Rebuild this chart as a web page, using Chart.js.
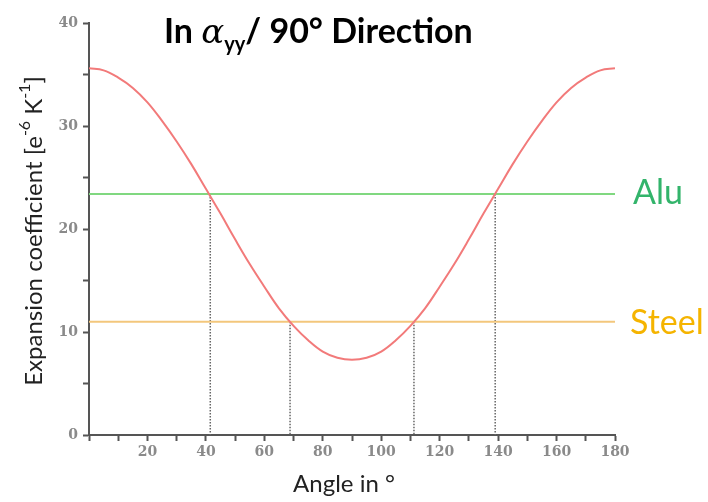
<!DOCTYPE html>
<html>
<head>
<meta charset="utf-8">
<script src="https://cdn.jsdelivr.net/npm/chart.js@4"></script>
<style>
  html, body { margin: 0; padding: 0; background: #fff; }
  canvas { display: block; }
</style>
</head>
<body>
<canvas id="grafica" width="708" height="502"></canvas>
<script>
"use strict";

// angulo en grados y coeficiente
const angles = [0, 5, 10, 15, 20, 25, 30, 35, 40, 45, 50, 55, 60, 65, 70, 75, 80, 85, 90,
    95, 100, 105, 110, 115, 120, 125, 130, 135, 140, 145, 150, 155, 160, 165, 170, 175, 180];
const coefficient = [35.6, 35.4, 34.7, 33.7, 32.3, 30.5, 28.5, 26.3, 23.9, 21.5, 19.0, 16.6, 14.4, 12.3, 10.6, 9.2, 8.1, 7.5, 7.3,
    7.5, 8.1, 9.2, 10.6, 12.3, 14.4, 16.6, 19.0, 21.5, 23.9, 26.3, 28.5, 30.5, 32.3, 33.7, 34.7, 35.4, 35.6];

const aluLevel = 23.4;
const steelLevel = 11.0;

// cruces de la curva con los materiales
const crossAngles = [41.5, 68.8, 111.2, 139];
const crossLevels = [23.4, 11.0, 11.0, 23.4];

const materialNames = ["Alu", "Steel"];

const canvas = document.querySelector("#grafica");

/**
 * Textos: titulo, titulo del eje y, nombres de materiales
 */
const textPlugin = {
    id: "textos",
    afterDraw(chart) {
        const ctx = chart.ctx;
        const y = chart.scales.y;
        const area = chart.chartArea;
        ctx.save();

        // titulo
        const parts = [
            { t: "In ", f: "bold 34px Lato", dy: 0 },
            { t: "\u03B1", f: "italic 34px 'DejaVu Serif'", dy: 0 },
            { t: "yy", f: "bold 20px Lato", dy: 8 },
            { t: "/ 90\u00B0 Direction", f: "bold 34px Lato", dy: 0 },
        ];
        let x = 164;
        ctx.fillStyle = "#000";
        ctx.textBaseline = "alphabetic";
        ctx.textAlign = "left";
        parts.forEach((p) => {
            ctx.font = p.f;
            ctx.fillText(p.t, x, 43 + p.dy);
            x += ctx.measureText(p.t).width;
        });

        // titulo eje y
        ctx.translate(30, 231);
        ctx.rotate(-Math.PI / 2);
        const yParts = [
            { t: "Expansion coefficient [e", f: "24px Lato", dy: 0 },
            { t: "-6", f: "16px Lato", dy: -9 },
            { t: " K", f: "24px Lato", dy: 0 },
            { t: "-1", f: "16px Lato", dy: -9 },
            { t: "]", f: "24px Lato", dy: 0 },
        ];
        let total = 0;
        yParts.forEach((p) => {
            ctx.font = p.f;
            total += ctx.measureText(p.t).width;
        });
        let xx = -total / 2;
        ctx.fillStyle = "#222";
        ctx.textBaseline = "middle";
        yParts.forEach((p) => {
            ctx.font = p.f;
            ctx.fillText(p.t, xx, 4 + p.dy);
            xx += ctx.measureText(p.t).width;
        });
        ctx.setTransform(1, 0, 0, 1, 0, 0);

        // materiales
        ctx.font = "34px Lato";
        ctx.textBaseline = "middle";
        ctx.fillStyle = "#33b46b";
        ctx.fillText(materialNames[0], area.right + 18, y.getPixelForValue(aluLevel) - 1);
        ctx.fillStyle = "#f5b400";
        ctx.fillText(materialNames[1], area.right + 15, y.getPixelForValue(steelLevel) + 1);

        // titulo eje x
        ctx.font = "24px Lato";
        ctx.fillStyle = "#222";
        ctx.textAlign = "center";
        ctx.fillText("Angle in \u00B0", 344, 484);
        ctx.restore();
    },
};

const datasets = [
    {
        label: "curve",
        data: angles.map((a, i) => ({ x: a, y: coefficient[i] })),
        borderColor: "#f27a7a",
        borderWidth: 2,
        pointRadius: 0,
        tension: 0.4,
        order: 0,
    },
    {
        label: "Alu",
        data: [{ x: 0, y: aluLevel }, { x: 180, y: aluLevel }],
        borderColor: "#80d880",
        borderWidth: 2,
        pointRadius: 0,
        order: 1,
    },
    {
        label: "Steel",
        data: [{ x: 0, y: steelLevel }, { x: 180, y: steelLevel }],
        borderColor: "#f3c77c",
        borderWidth: 2,
        pointRadius: 0,
        order: 1,
    },
];

crossAngles.forEach((a, i) => {
    datasets.push({
        label: "drop" + i,
        data: [{ x: a, y: crossLevels[i] }, { x: a, y: 0 }],
        borderColor: "#666",
        borderWidth: 1.5,
        borderDash: [1.5, 1.5],
        pointRadius: 0,
        order: 2,
    });
});

const chart = new Chart(canvas, {
    type: "line",
    data: { datasets: datasets },
    plugins: [textPlugin],
    options: {
        responsive: false,
        animation: false,
        layout: {
            padding: { left: 0, top: 23, right: 93, bottom: 0 },
        },
        plugins: {
            legend: { display: false },
            tooltip: { enabled: false },
        },
        scales: {
            x: {
                type: "linear",
                min: 0,
                max: 180,
                afterFit: (scale) => { scale.height = 67; },
                ticks: {
                    stepSize: 10,
                    autoSkip: false,
                    maxRotation: 0,
                    padding: 3,
                    color: "#8a8a8a",
                    font: { family: "'DejaVu Serif'", size: 14, weight: "bold" },
                    callback: (v) => (v > 0 && v % 20 === 0 ? v : ""),
                },
                grid: {
                    drawOnChartArea: false,
                    drawTicks: true,
                    tickLength: 6,
                    tickColor: "#555",
                    tickWidth: 2,
                },
                border: { color: "#555", width: 2 },
            },
            y: {
                min: 0,
                max: 40,
                afterFit: (scale) => { scale.width = 89; },
                ticks: {
                    stepSize: 5,
                    autoSkip: false,
                    padding: 5,
                    color: "#8a8a8a",
                    font: { family: "'DejaVu Serif'", size: 14, weight: "bold" },
                    callback: (v) => (v % 10 === 0 ? v : ""),
                },
                grid: {
                    drawOnChartArea: false,
                    drawTicks: true,
                    tickLength: 6,
                    tickColor: "#555",
                    tickWidth: 2,
                },
                border: { color: "#555", width: 2 },
            },
        },
    },
});
</script>
</body>
</html>
